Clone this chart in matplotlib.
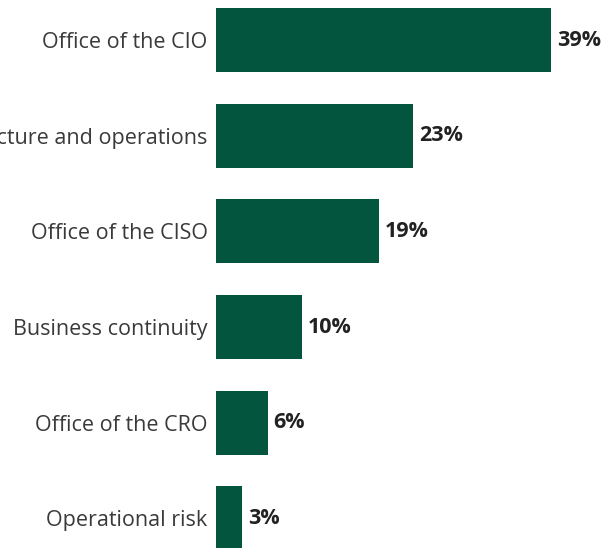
import matplotlib
matplotlib.use("Agg")
import matplotlib.pyplot as plt

categories = ["Office of the CIO", "Infrastructure and operations", "Office of the CISO",
              "Business continuity", "Office of the CRO", "Operational risk"]
values = [39, 23, 19, 10, 6, 3]
value_labels = ["39%", "23%", "19%", "10%", "6%", "3%"]

plt.rcParams['font.family'] = ['Open Sans', 'DejaVu Sans']

fig = plt.figure(figsize=(6.10, 5.48), dpi=100)
ax = fig.add_axes([216 / 610, 0, 1 - 216 / 610, 1])

pos = list(range(len(categories)))
ax.barh(pos, values, height=0.67, color="#03553d")
for p, v, lab in zip(pos, values, value_labels):
    ax.text(v + 0.7, p, lab, va="center", ha="left", fontsize=15.5,
            fontweight="bold", color="#222222")

ax.set_xlim(0, 45.9)
ax.set_ylim(5.31, -0.42)
ax.set_yticks(pos)
ax.set_yticklabels(categories, fontsize=15.5, color="#3a3a3a")
ax.tick_params(axis="y", length=0, pad=6)
ax.set_xticks([])
for s in ax.spines.values():
    s.set_visible(False)

fig.savefig("out.png", dpi=100)
